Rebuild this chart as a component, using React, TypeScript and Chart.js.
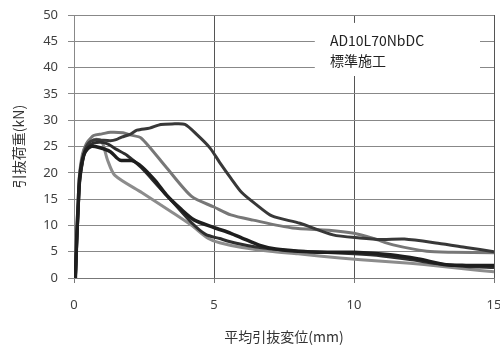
import React, { useEffect, useRef } from "react";
import { Chart, registerables } from "chart.js";

Chart.register(...registerables);

// Series 1: dark, peak ~29 kN
const s1X = [0.05, 0.1, 0.15, 0.2, 0.3, 0.4, 0.5, 0.6, 0.8, 1.0, 1.3, 1.5, 1.7, 2.0, 2.25, 2.7, 3.1, 3.5, 3.96, 4.4, 4.86, 5.2, 5.6, 6.0, 6.5, 7.07, 8.07, 9.25, 10.2, 11.0, 11.8, 13.0, 14.0, 15.0];
const s1Y = [0, 7, 13, 18, 22, 24.5, 25.5, 26, 26.3, 26.2, 26.1, 26.3, 26.8, 27.3, 28.1, 28.5, 29.2, 29.3, 29.2, 27.2, 24.7, 22, 19, 16.2, 14, 11.8, 10.4, 8.2, 7.6, 7.3, 7.4, 6.6, 5.8, 5.0];

// Series 2: grey, peak ~27.7 kN
const s2X = [0.05, 0.1, 0.15, 0.2, 0.3, 0.4, 0.5, 0.7, 1.0, 1.3, 1.75, 2.0, 2.4, 3.3, 4.2, 5.0, 5.6, 6.4, 7.8, 9.1, 10.0, 10.7, 11.4, 12.6, 13.5, 15.0];
const s2Y = [0, 8, 14, 19.5, 23, 25, 26, 27.1, 27.4, 27.7, 27.6, 27.2, 26.6, 21, 15.5, 13.5, 12, 11, 9.5, 9.1, 8.5, 7.5, 6.3, 5.1, 4.9, 4.8];

// Series 3: black, thick
const s3X = [0.05, 0.1, 0.15, 0.2, 0.3, 0.4, 0.6, 0.9, 1.3, 1.64, 2.07, 2.43, 2.9, 3.3, 3.8, 4.3, 5.0, 5.6, 6.0, 6.64, 7.2, 8.0, 9.0, 10.0, 11.3, 12.3, 13.3, 14.0, 15.0];
const s3Y = [0, 8, 14, 19, 22.5, 24, 25, 24.8, 24, 22.4, 22.3, 21.1, 18.5, 15.8, 13.2, 11, 9.6, 8.5, 7.6, 6.2, 5.5, 5.1, 4.9, 4.9, 4.4, 3.6, 2.5, 2.4, 2.4];

// Series 4: dark
const s4X = [0.05, 0.1, 0.15, 0.2, 0.3, 0.4, 0.6, 0.9, 1.2, 1.5, 1.9, 2.4, 3.0, 3.6, 4.2, 4.7, 5.2, 5.8, 6.5, 7.5, 8.5, 10.0, 11.0, 12.0, 13.0, 14.0, 15.0];
const s4Y = [0, 7, 13, 18.5, 22, 24, 25.4, 25.8, 25.5, 24.5, 23.3, 21, 17.5, 14, 10.5, 8.3, 7.5, 6.6, 5.9, 5.3, 5.0, 4.6, 4.2, 3.5, 2.7, 2.2, 2.0];

// Series 5: light grey
const s5X = [0.05, 0.1, 0.15, 0.2, 0.3, 0.4, 0.6, 0.8, 1.0, 1.2, 1.46, 2.43, 3.5, 4.2, 4.8, 5.2, 6.0, 7.0, 8.0, 9.5, 11.0, 12.0, 13.0, 14.0, 15.0];
const s5Y = [0, 9, 15, 20, 23.5, 25, 26, 26.4, 25.9, 22.4, 19.5, 16.2, 12.5, 10, 7.5, 6.7, 5.8, 5.1, 4.6, 3.8, 3.2, 2.8, 2.3, 1.7, 1.2];

const xTitle = "平均引抜変位(mm)";
const yTitle = "引抜荷重(kN)";
const legendLines = ["AD10L70NbDC", "標準施工"];

const toPts = (xs: number[], ys: number[]) => xs.map((x, i) => ({ x, y: ys[i] }));

const labelBox = {
  id: "labelBox",
  beforeDatasetsDraw(chart: any) {
    const { ctx, scales } = chart;
    const xs = scales.x;
    const ys = scales.y;
    const l = xs.getPixelForValue(8.6);
    const r = xs.getPixelForValue(14.5);
    const t = ys.getPixelForValue(48.5);
    const b = ys.getPixelForValue(38.4);
    ctx.save();
    ctx.fillStyle = "#ffffff";
    ctx.fillRect(l, t, r - l, b - t);
    ctx.fillStyle = "#222222";
    ctx.font = '14px "Noto Sans CJK JP", "Noto Sans", sans-serif';
    ctx.textAlign = "left";
    ctx.textBaseline = "middle";
    const tx = xs.getPixelForValue(9.14);
    ctx.fillText(legendLines[0], tx, ys.getPixelForValue(45.2));
    ctx.fillText(legendLines[1], tx, ys.getPixelForValue(41.3));
    ctx.restore();
  },
};

export default function App() {
  const ref = useRef<HTMLCanvasElement>(null);
  useEffect(() => {
    if (!ref.current) return;
    const mk = (xs: number[], ys: number[], color: string, w: number) => ({
      data: toPts(xs, ys),
      borderColor: color,
      backgroundColor: color,
      borderWidth: w,
      pointRadius: 0,
      tension: 0.25,
      fill: false,
    });
    const tickFont = { family: '"Noto Sans", "DejaVu Sans", sans-serif', size: 13 };
    const titleFont = { family: '"Noto Sans CJK JP", "Noto Sans", sans-serif', size: 14, lineHeight: 1.2 };
    const chart = new Chart(ref.current, {
      type: "line",
      data: {
        datasets: [
          mk(s3X, s3Y, "#1e1e1e", 3.5),
          mk(s4X, s4Y, "#2e2e2e", 3),
          mk(s1X, s1Y, "#383838", 3),
          mk(s2X, s2Y, "#777777", 3),
          mk(s5X, s5Y, "#8c8c8c", 3),
        ] as any,
      },
      options: {
        animation: false,
        responsive: false,
        devicePixelRatio: 1,
        layout: { padding: { top: 15, right: 6, left: 0, bottom: 0 } },
        plugins: { legend: { display: false }, tooltip: { enabled: false } },
        scales: {
          x: {
            type: "linear",
            min: 0,
            max: 15,
            ticks: { stepSize: 5, color: "#404040", font: tickFont, padding: 14, maxRotation: 0 },
            grid: { color: "#555555", tickColor: "#777777", tickLength: 5, lineWidth: 1 },
            border: { color: "#777777", width: 1 },
            title: { display: true, text: xTitle, color: "#333333", font: titleFont, padding: { top: 0, bottom: 2 } },
            afterFit(scale: any) {
              scale.height = 69;
              scale.paddingLeft = 0;
              scale.paddingRight = 0;
            },
          },
          y: {
            min: 0,
            max: 50,
            ticks: { stepSize: 5, color: "#404040", font: tickFont, padding: 10 },
            grid: { color: "#888888", tickColor: "#888888", tickLength: 6, lineWidth: 1 },
            border: { color: "#888888", width: 1 },
            title: { display: true, text: yTitle, color: "#333333", font: titleFont, padding: { top: 10, bottom: 0 } },
            afterFit(scale: any) {
              scale.width = 74;
              scale.paddingTop = 0;
              scale.paddingBottom = 0;
            },
          },
        },
      } as any,
      plugins: [labelBox],
    });
    return () => chart.destroy();
  }, []);
  return (
    <div style={{ position: "absolute", left: 0, top: 0, width: 500, height: 347, background: "#fff" }}>
      <canvas ref={ref} width={500} height={347} />
    </div>
  );
}
